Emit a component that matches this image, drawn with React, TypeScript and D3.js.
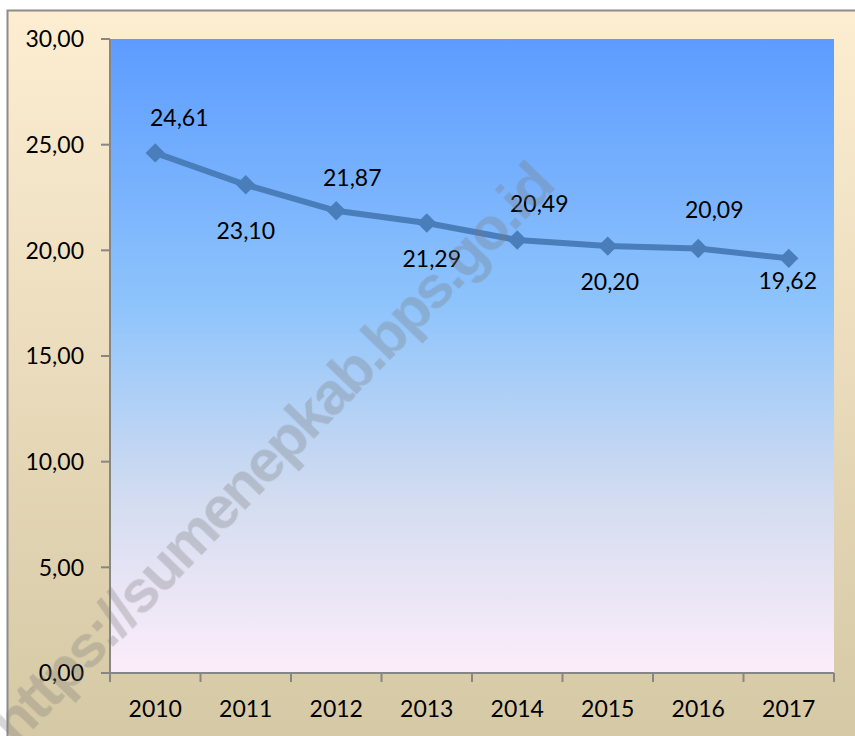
import React from "react";
import * as d3 from "d3";

const years = ["2010", "2011", "2012", "2013", "2014", "2015", "2016", "2017"];
const values = [24.61, 23.1, 21.87, 21.29, 20.49, 20.2, 20.09, 19.62];
const yTicks = [0, 5, 10, 15, 20, 25, 30];

// label nudges (dx, dy to baseline), as placed in the original
const labelNudge: [number, number][] = [
  [24, -27], [0, 54], [16, -25], [5, 44], [22, -28], [2, 44], [16, -30], [-1, 31],
];

const W = 855;
const H = 736;
const plot = { left: 110, right: 834, top: 39, bottom: 673 };
const font = "Lato, 'Open Sans', sans-serif";

const fmt = (v: number) => v.toFixed(2).replace(".", ",");

export default function App() {
  const x = d3.scaleBand().domain(years).range([plot.left, plot.right]);
  const y = d3.scaleLinear().domain([0, 30]).range([plot.bottom, plot.top]);
  const cx = (d: string) => (x(d) ?? 0) + x.bandwidth() / 2;

  const line = d3
    .line<number>()
    .x((_, i) => cx(years[i]))
    .y((d) => y(d));

  const diamond = d3.symbol(d3.symbolDiamond2, 240)();
  const bounds = years.map((d) => x(d) ?? 0).concat([plot.right]);

  return (
    <div style={{ position: "fixed", left: 0, top: 0 }}>
      <svg width={W} height={H} style={{ display: "block" }}>
        <defs>
          <linearGradient id="outerBg" x1="0" y1="0" x2="0" y2="1">
            <stop offset="0" stopColor="#fdeed2" />
            <stop offset="1" stopColor="#d5c8a4" />
          </linearGradient>
          <linearGradient id="plotBg" x1="0" y1="0" x2="0" y2="1">
            <stop offset="0" stopColor="#5d9cff" />
            <stop offset="0.42" stopColor="#8ec4fc" />
            <stop offset="0.72" stopColor="#d2dcf0" />
            <stop offset="1" stopColor="#fdedfa" />
          </linearGradient>
        </defs>
        <rect x={0} y={0} width={W} height={H} fill="#ffffff" />
        <rect x={7.5} y={10.5} width={W} height={H} fill="url(#outerBg)" stroke="#8c8c8c" strokeWidth={2} />
        <rect
          x={plot.left}
          y={plot.top}
          width={plot.right - plot.left}
          height={plot.bottom - plot.top}
          fill="url(#plotBg)"
        />

        {/* axes */}
        <g stroke="#868686" strokeWidth={2}>
          <line x1={plot.left} x2={plot.left} y1={plot.top} y2={plot.bottom} />
          <line x1={plot.left} x2={plot.right} y1={plot.bottom} y2={plot.bottom} />
          {yTicks.map((t) => (
            <line key={t} x1={plot.left - 9} x2={plot.left} y1={y(t)} y2={y(t)} />
          ))}
          {bounds.map((b, i) => (
            <line key={i} x1={b} x2={b} y1={plot.bottom} y2={plot.bottom + 9} />
          ))}
        </g>
        <g fontFamily={font} fontSize={23} fill="#000">
          {yTicks.map((t) => (
            <text key={t} x={84} y={y(t)} dy="0.36em" textAnchor="end">
              {fmt(t)}
            </text>
          ))}
          {years.map((d) => (
            <text key={d} x={cx(d)} y={717} textAnchor="middle">
              {d}
            </text>
          ))}
        </g>

        {/* series */}
        <path d={line(values) ?? ""} fill="none" stroke="#4a7ebb" strokeWidth={6} strokeLinejoin="round" />
        {values.map((v, i) => (
          <path key={i} d={diamond ?? ""} transform={`translate(${cx(years[i])},${y(v)})`} fill="#4a7ebb" />
        ))}
        <g fontFamily={font} fontSize={23} fill="#000">
          {values.map((v, i) => (
            <text
              key={i}
              x={cx(years[i]) + labelNudge[i][0]}
              y={y(v) + labelNudge[i][1]}
              textAnchor="middle"
            >
              {fmt(v)}
            </text>
          ))}
        </g>

        {/* watermark */}
        <text
          transform="translate(272,452) rotate(-46)"
          textAnchor="middle"
          dy="0.35em"
          fontFamily="'Liberation Sans', Arial, sans-serif"
          fontWeight="bold"
          fontSize={60}
          textLength={780}
          lengthAdjust="spacing"
          fill="#787878"
          fillOpacity={0.3}
        >
          https://sumenepkab.bps.go.id
        </text>
      </svg>
    </div>
  );
}
